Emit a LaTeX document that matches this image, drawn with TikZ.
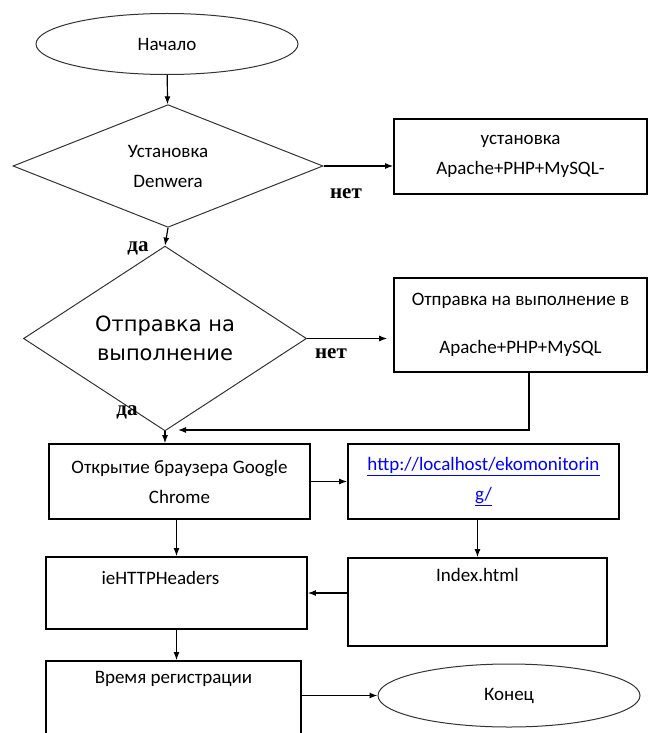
\documentclass[tikz,border=0pt]{standalone}
\usepackage{fontspec}
\setmainfont{Carlito}
\newfontfamily\ynfont{Liberation Serif}
\newfontfamily\bigfont{DejaVu Sans}
\usetikzlibrary{shapes.geometric,arrows.meta,calc}
\begin{document}
\begin{tikzpicture}[x=1pt,y=-1pt,font=\fontsize{19}{30}\selectfont,
box/.style={draw=black,line width=1.8pt,rectangle,inner sep=0pt,align=center},
term/.style={draw=black!80,line width=1pt,ellipse,minimum width=262pt,minimum height=61pt,inner sep=0pt},
cond/.style={draw=black!80,line width=1pt,diamond,inner sep=0pt,align=center},
arr/.style={line width=1.2pt,-{Latex[length=8pt,width=6pt]}},
yn/.style={font=\ynfont\bfseries\fontsize{21}{24}\selectfont}]
\useasboundingbox (0,0) rectangle (648,733);
\clip (0,0) rectangle (648,733);
% terminals and decisions
\node[term] (start) at (167,44) {Начало};
\node[cond,minimum width=310pt,minimum height=112pt] (inst) at (168,166) {Установка\\Denwera};
\node[box,minimum width=253pt,minimum height=75pt] (amp) at (520.5,156.5) {установка\\Apache+PHP+MySQL-};
\node[cond,minimum width=283pt,minimum height=153pt,font=\bigfont\fontsize{21}{29}\selectfont] (send) at (165,338.5) {Отправка на\\выполнение};
\node[box,minimum width=253pt,minimum height=94pt,font=\fontsize{19}{48}\selectfont] (exec) at (520.5,325) {Отправка на выполнение в\\Apache+PHP+MySQL};
% browser part
\node[box,minimum width=261pt,minimum height=75pt] (chrome) at (179.5,481.5) {Открытие браузера Google\\Chrome};
\node[box,minimum width=271pt,minimum height=75pt,text=blue] (url) at (483.5,481.5) {\underline{http://localhost/ekomonitorin}\\\underline{g/}};
\node[box,minimum width=261pt,minimum height=72pt] (hdr) at (176.5,593) {};
\node (hdrtxt) at ($(hdr.north)+(-16,22)$) {ieHTTPHeaders};
\node[box,minimum width=259pt,minimum height=88pt] (index) at (477.5,602) {};
\node (indextxt) at ($(index.north)+(0,18)$) {Index.html};
\node[box,minimum width=255pt,minimum height=90pt] (reg) at (173.5,706) {};
\node (regtxt) at ($(reg.north)+(0,19)$) {Время регистрации};
\node[term,minimum height=63pt] (stop) at (509,695.5) {Конец};
% yes / no
\node[yn] (no1) at (346,194) {нет};
\node[yn] (yes1) at (138,248) {да};
\node[yn] (no2) at (331,354) {нет};
\node[yn] (yes2) at (127,412) {да};
% connectors
\coordinate (turn) at (529,430);
\coordinate (back) at (178,430);
\draw[arr] (start) -- (inst);
\draw[arr] (inst.east) -- (amp.west |- inst.east);
\draw[arr] (inst.south) -- (send.north);
\draw[arr,shorten >=6pt] (send.east) -- (exec.west |- send.east);
\draw[arr] (send.south) -- (send.south |- chrome.north);
\draw[arr] (exec.south -| turn) -- (turn) -- (back);
\draw[arr] (chrome.east) -- (url.west);
\draw[arr] (hdr.north |- chrome.south) -- (hdr.north);
\draw[arr] (index.north |- url.south) -- (index.north);
\draw[arr] (index.west |- hdr.east) -- (hdr.east);
\draw[arr] (hdr.south) -- (hdr.south |- reg.north);
\draw[arr] (reg.east |- stop.west) -- (stop.west);
\end{tikzpicture}
\end{document}
